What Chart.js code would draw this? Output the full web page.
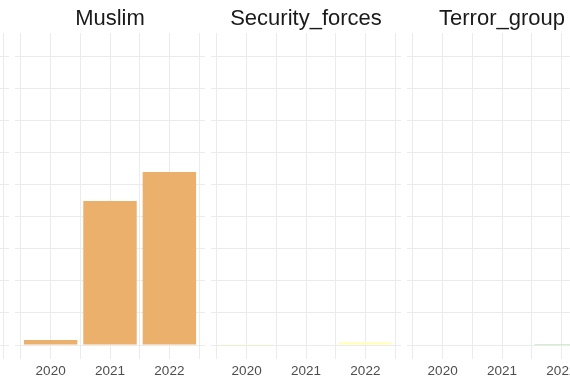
<!DOCTYPE html>
<html>
<head>
<meta charset="utf-8">
<script src="https://cdn.jsdelivr.net/npm/chart.js@4"></script>
<style>
  html, body { margin: 0; padding: 0; background: #ffffff; width: 570px; height: 380px; overflow: hidden; position: relative; }
  canvas { position: absolute; top: 0; }
</style>
</head>
<body>
<canvas id="p0" width="190" height="380" style="left:-181px"></canvas>
<canvas id="p1" width="190" height="380" style="left:15px"></canvas>
<canvas id="p2" width="190" height="380" style="left:211px"></canvas>
<canvas id="p3" width="190" height="380" style="left:407px"></canvas>
<script>
// ---- data ----
const years = ['2020', '2021', '2022'];
const panelTitles = ['', 'Muslim', 'Security_forces', 'Terror_group'];
const offscreenPanel = [0, 0, 0];
const muslim = [3.9, 112.3, 135];
const securityForces = [0.8, 0, 2.3];
const terrorGroup = [0, 0, 0.8];
const yTickValues = [0, 25, 50, 75, 100, 125, 150, 175, 200, 225];
const xTickValues = [0.5, 1, 1.5, 2, 2.5, 3, 3.5];

const panelData = [offscreenPanel, muslim, securityForces, terrorGroup];
const panelColors = ['#cccccc', '#EBB06C', '#FFFFBF', '#ABDDA4'];

function makePanel(id, title, values, color) {
  new Chart(document.getElementById(id), {
    type: 'bar',
    data: {
      datasets: [{
        data: values.map((v, i) => ({ x: i + 1, y: v })),
        backgroundColor: color,
        borderWidth: 0,
        // ticks are every half unit (minor grid), so 1.8 of that spacing = 0.9 of a category
        barPercentage: 1.8,
        categoryPercentage: 1.0
      }]
    },
    options: {
      responsive: false,
      animation: false,
      devicePixelRatio: 1,
      layout: { padding: 0 },
      plugins: {
        legend: { display: false },
        tooltip: { enabled: false },
        title: {
          display: true,
          text: title,
          color: '#1A1A1A',
          font: { family: '"Liberation Sans", Arial, sans-serif', size: 22, weight: 'normal' },
          padding: { top: 5.5, bottom: 1.1 }
        }
      },
      scales: {
        x: {
          type: 'linear',
          min: 0.4,
          max: 3.6,
          offset: false,
          afterBuildTicks: s => { s.ticks = xTickValues.map(v => ({ value: v })); },
          afterFit: s => { s.height = 21; },
          ticks: {
            autoSkip: false,
            maxRotation: 0,
            padding: 4,
            color: '#4D4D4D',
            font: { family: '"Liberation Sans", Arial, sans-serif', size: 13.5 },
            callback: v => Number.isInteger(v) ? years[v - 1] : ''
          },
          grid: {
            offset: false,
            drawTicks: false,
            color: '#EBEBEB',
            lineWidth: 1
          },
          border: { display: false }
        },
        y: {
          min: -10.92,
          max: 243.4,
          afterBuildTicks: s => { s.ticks = yTickValues.map(v => ({ value: v })); },
          afterFit: s => { s.width = 0; },
          ticks: { display: false },
          grid: { drawTicks: false, color: '#EBEBEB', lineWidth: 1 },
          border: { display: false }
        }
      }
    }
  });
}

['p0', 'p1', 'p2', 'p3'].forEach((id, i) => makePanel(id, panelTitles[i], panelData[i], panelColors[i]));
</script>
</body>
</html>
